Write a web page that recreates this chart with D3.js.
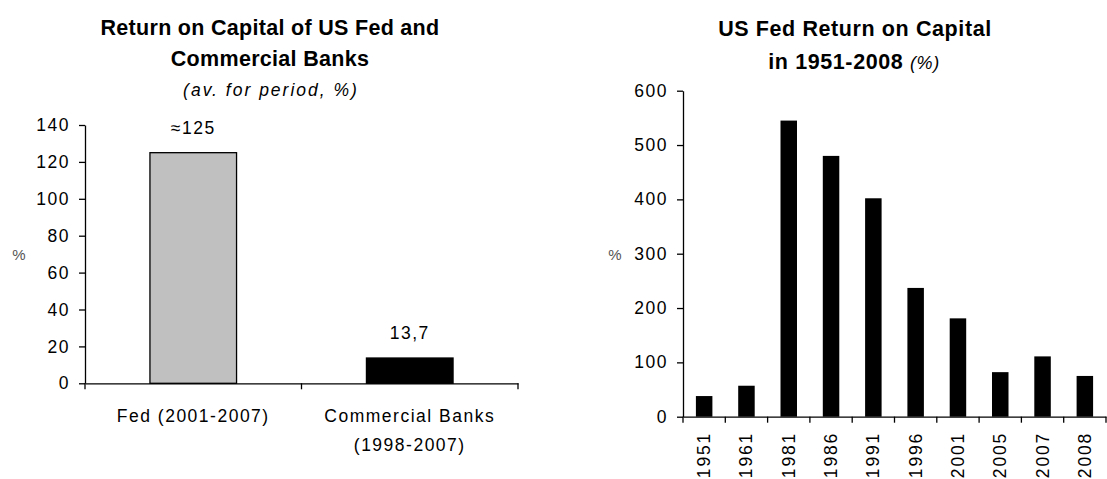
<!DOCTYPE html>
<html>
<head>
<meta charset="utf-8">
<script src="https://cdn.jsdelivr.net/npm/d3@7"></script>
<style>
  body { margin: 0; background: #fff; }
  svg { display: block; font-family: "Liberation Sans", Arial, sans-serif; }
  .txt { font-size: 17.5px; letter-spacing: 1.5px; fill: #000; }
  .title { font-size: 21.5px; font-weight: bold; letter-spacing: 0.3px; fill: #000; }
  .axis path, .axis line { stroke: #000; stroke-width: 1.3; }
  .axis text { font-size: 17.5px; letter-spacing: 1.5px; fill: #000; font-family: "Liberation Sans", Arial, sans-serif; }
</style>
</head>
<body>
<svg width="1107" height="479"></svg>
<script>
// left chart data
const periodCats = ["Fed (2001-2007)", "Commercial Banks|(1998-2007)"];
const periodValues = [125, 13.7];
const periodLabels = ["≈125", "13,7"];
const periodColors = ["#c0c0c0", "#000000"];
const periodTicks = [0, 20, 40, 60, 80, 100, 120, 140];

// right chart data
const years = ["1951", "1961", "1981", "1986", "1991", "1996", "2001", "2005", "2007", "2008"];
const fedReturn = [38, 57, 545, 480, 402, 237, 181, 82, 111, 75];
const fedTicks = [0, 100, 200, 300, 400, 500, 600];

const svg = d3.select("svg");

// ---------- left chart ----------
const x1 = d3.scaleBand().domain(periodCats).range([85, 518]).paddingInner(0).paddingOuter(0);
const y1 = d3.scaleLinear().domain([0, 140]).range([383.3, 125]);
const barW1 = x1.step() * 0.4;

svg.append("text").attr("class", "title").attr("x", 270).attr("y", 35)
    .attr("text-anchor", "middle").text("Return on Capital of US Fed and");
svg.append("text").attr("class", "title").attr("x", 270).attr("y", 66)
    .attr("text-anchor", "middle").text("Commercial Banks");
svg.append("text").attr("class", "txt").attr("x", 271).attr("y", 96)
    .attr("text-anchor", "middle").style("font-style", "italic").style("letter-spacing", "2px")
    .text("(av. for period, %)");

svg.append("g").selectAll("rect")
    .data(periodValues)
    .enter().append("rect")
    .attr("x", (d, i) => x1(periodCats[i]) + (x1.step() - barW1) / 2)
    .attr("y", d => y1(d))
    .attr("width", barW1)
    .attr("height", d => y1(0) - y1(d))
    .style("fill", (d, i) => periodColors[i])
    .style("stroke", "#000")
    .style("stroke-width", 1.3);

svg.append("g").selectAll("text")
    .data(periodValues)
    .enter().append("text")
    .attr("class", "txt")
    .attr("x", (d, i) => x1(periodCats[i]) + x1.step() / 2)
    .attr("y", d => y1(d) - 19)
    .attr("text-anchor", "middle")
    .text((d, i) => periodLabels[i]);

svg.append("g").attr("class", "axis")
    .attr("transform", "translate(85,0)")
    .call(d3.axisLeft(y1).tickValues(periodTicks).tickSize(6).tickSizeOuter(0).tickPadding(9));

// category axis: line plus boundary ticks
const xAxis1 = svg.append("g").attr("class", "axis")
    .attr("transform", `translate(0,${y1(0)})`)
    .call(d3.axisBottom(x1).tickSize(0).tickSizeOuter(0).tickFormat(""));
xAxis1.selectAll(".bound")
    .data(d3.range(periodCats.length + 1))
    .enter().append("line")
    .attr("x1", i => x1.range()[0] + i * x1.step())
    .attr("x2", i => x1.range()[0] + i * x1.step())
    .attr("y1", 0).attr("y2", 6);

svg.append("g").selectAll("text")
    .data(periodCats)
    .enter().append("text")
    .attr("class", "txt")
    .attr("text-anchor", "middle")
    .attr("x", d => x1(d) + x1.step() / 2)
    .attr("y", 422)
    .each(function(d) {
        d.split("|").forEach((line, k) => {
            d3.select(this).append("tspan")
                .attr("x", x1(d) + x1.step() / 2)
                .attr("dy", k === 0 ? 0 : 29)
                .text(line);
        });
    });

svg.append("text").attr("x", 19).attr("y", 260).attr("text-anchor", "middle")
    .style("font-size", "15px").style("fill", "#555").text("%");

// ---------- right chart ----------
const x2 = d3.scaleBand().domain(years).range([683, 1106]).paddingInner(0).paddingOuter(0);
const y2 = d3.scaleLinear().domain([0, 600]).range([416.7, 90.7]);
const barW2 = x2.step() * 0.39;

svg.append("text").attr("class", "title").attr("x", 855).attr("y", 36)
    .attr("text-anchor", "middle").style("letter-spacing", "0.6px").text("US Fed Return on Capital");
const t2 = svg.append("text").attr("class", "title").attr("x", 854).attr("y", 69)
    .attr("text-anchor", "middle").style("letter-spacing", "0.6px");
t2.append("tspan").text("in 1951-2008 ");
t2.append("tspan").style("font-weight", "normal").style("font-style", "italic")
    .style("font-size", "18px").text("(%)");

svg.append("g").selectAll("rect")
    .data(fedReturn)
    .enter().append("rect")
    .attr("x", (d, i) => x2(years[i]) + (x2.step() - barW2) / 2)
    .attr("y", d => y2(d))
    .attr("width", barW2)
    .attr("height", d => y2(0) - y2(d))
    .style("fill", "#000");

svg.append("g").attr("class", "axis")
    .attr("transform", "translate(683,0)")
    .call(d3.axisLeft(y2).tickValues(fedTicks).tickSize(6).tickSizeOuter(0).tickPadding(9));

const xAxis2 = svg.append("g").attr("class", "axis")
    .attr("transform", `translate(0,${y2(0)})`)
    .call(d3.axisBottom(x2).tickSize(0).tickSizeOuter(0).tickFormat(""));
xAxis2.selectAll(".bound")
    .data(d3.range(years.length + 1))
    .enter().append("line")
    .attr("x1", i => x2.range()[0] + i * x2.step())
    .attr("x2", i => x2.range()[0] + i * x2.step())
    .attr("y1", 0).attr("y2", 6);

svg.append("g").selectAll("text")
    .data(years)
    .enter().append("text")
    .attr("class", "txt")
    .attr("text-anchor", "end")
    .style("letter-spacing", "1.8px")
    .attr("transform", d => `translate(${x2(d) + x2.step() / 2 + 6},432) rotate(-90)`)
    .text(d => d);

svg.append("text").attr("x", 615).attr("y", 260).attr("text-anchor", "middle")
    .style("font-size", "15px").style("fill", "#555").text("%");
</script>
</body>
</html>
